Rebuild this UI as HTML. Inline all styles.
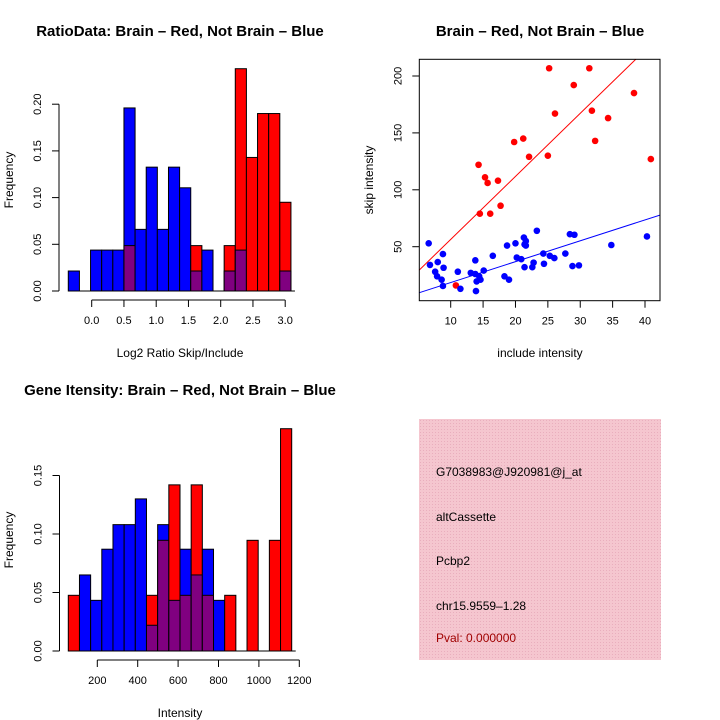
<!DOCTYPE html>
<html><head><meta charset="utf-8"><style>
body{margin:0;background:#fff}
svg{display:block;font-family:"Liberation Sans",sans-serif}
</style></head><body>
<svg id="c" width="720" height="720" viewBox="0 0 720 720">
<rect width="720" height="720" fill="#fff"/>
<defs><pattern id="hatch" width="3" height="3" patternUnits="userSpaceOnUse"><rect width="3" height="3" fill="#f5c6cf"/><rect width="1" height="1" fill="#e9aebd"/></pattern></defs>
<text x="180" y="36" font-size="15" font-weight="bold" text-anchor="middle">RatioData: Brain – Red, Not Brain – Blue</text>
<text x="540" y="36" font-size="15" font-weight="bold" text-anchor="middle">Brain – Red, Not Brain – Blue</text>
<text x="180" y="395" font-size="15" font-weight="bold" text-anchor="middle">Gene Itensity: Brain – Red, Not Brain – Blue</text>
<text x="180" y="357" font-size="12" text-anchor="middle">Log2 Ratio Skip/Include</text>
<text transform="translate(13,180) rotate(-90)" font-size="12" text-anchor="middle">Frequency</text>
<text x="540" y="357" font-size="12" text-anchor="middle">include intensity</text>
<text transform="translate(373,180) rotate(-90)" font-size="12" text-anchor="middle">skip intensity</text>
<text x="180" y="717" font-size="12" text-anchor="middle">Intensity</text>
<text transform="translate(13,540) rotate(-90)" font-size="12" text-anchor="middle">Frequency</text>
<g>
<rect x="419" y="419" width="242" height="241" fill="url(#hatch)"/>
<text x="436" y="476" font-size="12">G7038983@J920981@j_at</text>
<text x="436" y="521" font-size="12">altCassette</text>
<text x="436" y="565" font-size="12">Pcbp2</text>
<text x="436" y="610" font-size="12">chr15.9559–1.28</text>
<text x="436" y="642" font-size="12" fill="#a00000">Pval: 0.000000</text>
</g>
<g id="h1"></g>
<g id="sc"></g>
<g id="h2"></g>
</svg>
<script>
// Ratio histogram data
const ratioBinStart = -0.363, ratioBinWidth = 0.1726;
const ratioBlue = [0.0214,0,0.0438,0.0438,0.0438,0.196,0.066,0.1326,0.066,0.1326,0.1105,0.0214,0.0438,0,0.0214,0.0438,0,0,0,0.0214];
const ratioRed  = [0,0,0,0,0,0.0486,0,0,0,0,0,0.0486,0,0,0.0486,0.238,0.143,0.19,0.19,0.095];
const ratioXTicks = [0,0.5,1,1.5,2,2.5,3];
const ratioXLabels = ["0.0","0.5","1.0","1.5","2.0","2.5","3.0"];
const ratioYTicks = [0,0.05,0.1,0.15,0.2];
const ratioYLabels = ["0.00","0.05","0.10","0.15","0.20"];
// Intensity histogram data
const intBinStart = 56.4, intBinWidth = 55.3;
const intBlue = [0,0.065,0.0433,0.087,0.108,0.108,0.130,0.022,0.108,0.0433,0.087,0.065,0.087,0.0433,0,0,0,0,0,0];
const intRed  = [0.0476,0,0,0,0,0,0,0.0476,0.0946,0.142,0.0476,0.142,0.0476,0,0.0476,0,0.0946,0,0.0946,0.19];
const intXTicks = [200,400,600,800,1000,1200];
const intYTicks = [0,0.05,0.1,0.15];
const intYLabels = ["0.00","0.05","0.10","0.15"];
// Scatter data
const redX = [25.2,31.4,29.0,26.1,31.8,38.3,34.3,32.3,21.2,19.8,22.1,25.0,40.9,14.3,15.3,15.7,17.3,17.7,14.5,16.1,10.8];
const redY = [206.8,206.8,192,167,169.5,185,163,143,145,142,129,130,127,122,111,106,108,86,79,79,16];
const blueX = [6.6,6.8,8.8,8.0,7.6,7.9,8.6,8.8,8.9,11.1,11.5,13.8,13.1,13.8,14.0,13.9,14.4,14.6,15.1,16.5,18.3,19.0,18.7,20.0,20.2,20.9,21.3,21.6,21.4,21.6,21.4,22.6,22.8,23.3,24.3,24.4,25.3,26.0,27.7,28.4,29.1,28.8,29.8,34.8,40.3];
const blueY = [53,34,43.5,36.5,28,24,21,15.5,31.5,28,13,38,27,26,19.5,11,24,21,29,42,24,21,51,53,40.5,39,58,55,52,51,32,32,36,64,44,35,42,40,44,61,60.5,33,33.6,51.5,59];
const redFit = [1.0,5.54];   // intercept, slope
const blueFit = [0.16,1.834];
const scXTicks = [10,15,20,25,30,35,40];
const scYTicks = [50,100,150,200];

const NS="http://www.w3.org/2000/svg";
function mk(parent,tag,attrs,text){const e=document.createElementNS(NS,tag);for(const k in attrs)e.setAttribute(k,attrs[k]);if(text!==undefined)e.textContent=text;parent.appendChild(e);return e;}

function hist(g,start,w,blue,red,xs,ys,xT,xL,yT,yL,yLineMax,xAxisY){
  blue.forEach((b,i)=>{
    const r=red[i];const x0=xs(start+i*w),x1=xs(start+(i+1)*w);
    const top=Math.max(b,r),ov=Math.min(b,r);
    if(top>0){
      const e=mk(g,'rect',{x:x0,y:ys(top),width:x1-x0,height:ys(0)-ys(top),fill:b>=r?'#0000ff':'#ff0000',stroke:'#000','stroke-width':1});
      
      
    }
    if(ov>0){
      const e=mk(g,'rect',{x:x0,y:ys(ov),width:x1-x0,height:ys(0)-ys(ov),fill:'#800080',stroke:'#000','stroke-width':1});
      
      
    }
  });
  const x0=xs(start), x1=xs(start+blue.length*w);
  mk(g,'line',{x1:x0,x2:x1+4,y1:ys(0),y2:ys(0),stroke:'#000'});
  mk(g,'line',{x1:xs(xT[0]),x2:xs(xT[xT.length-1]),y1:xAxisY,y2:xAxisY,stroke:'#000'});
  xT.forEach((t,i)=>{mk(g,'line',{x1:xs(t),x2:xs(t),y1:xAxisY,y2:xAxisY+7,stroke:'#000'});
    const e=mk(g,'text',{x:xs(t),y:xAxisY+24,'font-size':11,'text-anchor':'middle'},xL[i]);
    });
  const ax=g===document.getElementById('h1')?59:59.5;
  mk(g,'line',{x1:ax,x2:ax,y1:ys(0),y2:ys(yLineMax),stroke:'#000'});
  yT.forEach((t,i)=>{mk(g,'line',{x1:ax-7,x2:ax,y1:ys(t),y2:ys(t),stroke:'#000'});
    const e=mk(g,'text',{transform:`translate(${ax-18},${ys(t)}) rotate(-90)`,'font-size':11,'text-anchor':'middle'},yL[i]);
    });
}
// histogram 1
const h1=document.getElementById('h1');
const x1s=v=>91.7+v*64.5, y1s=v=>291-v*934;
hist(h1,ratioBinStart,ratioBinWidth,ratioBlue,ratioRed,x1s,y1s,ratioXTicks,ratioXLabels,ratioYTicks,ratioYLabels,0.2,300);
// histogram 2
const h2=document.getElementById('h2');
const x2s=v=>97.3+(v-200)*0.202, y2s=v=>651-v*1170;
hist(h2,intBinStart,intBinWidth,intBlue,intRed,x2s,y2s,intXTicks,intXTicks.map(String),intYTicks,intYLabels,0.15,660);

// scatter
const sc=document.getElementById('sc');
const L=419.3,R=660,T=59.3,B=300.7;
const sx=v=>450.7+(v-10)*6.477, sy=v=>246.7-(v-50)*1.138;
const xmin=(L-450.7)/6.477+10, xmax=(R-450.7)/6.477+10;
mk(sc,'clipPath',{id:'clip'});
mk(document.getElementById('clip'),'rect',{x:L,y:T,width:R-L,height:B-T});
[[redFit,'#ff0000','fit-line-red'],[blueFit,'#0000ff','fit-line-blue']].forEach(([f,c,n])=>{
  const e=mk(sc,'line',{x1:sx(xmin),y1:sy(f[0]+f[1]*xmin),x2:sx(xmax),y2:sy(f[0]+f[1]*xmax),stroke:c,'stroke-width':1,'clip-path':'url(#clip)'});
  
});
redX.forEach((x,i)=>{const e=mk(sc,'circle',{cx:sx(x),cy:sy(redY[i]),r:3.3,fill:'#ff0000'});
  });
blueX.forEach((x,i)=>{const e=mk(sc,'circle',{cx:sx(x),cy:sy(blueY[i]),r:3.3,fill:'#0000ff'});
  });
const fr=mk(sc,'rect',{x:L,y:T,width:R-L,height:B-T,fill:'none',stroke:'#000'});

scXTicks.forEach(t=>{mk(sc,'line',{x1:sx(t),x2:sx(t),y1:B,y2:B+7,stroke:'#000'});
  const e=mk(sc,'text',{x:sx(t),y:B+24,'font-size':11,'text-anchor':'middle'},String(t));
  });
scYTicks.forEach(t=>{mk(sc,'line',{x1:L-7,x2:L,y1:sy(t),y2:sy(t),stroke:'#000'});
  const e=mk(sc,'text',{transform:`translate(${L-18},${sy(t)}) rotate(-90)`,'font-size':11,'text-anchor':'middle'},String(t));
  });
</script>
</body></html>
